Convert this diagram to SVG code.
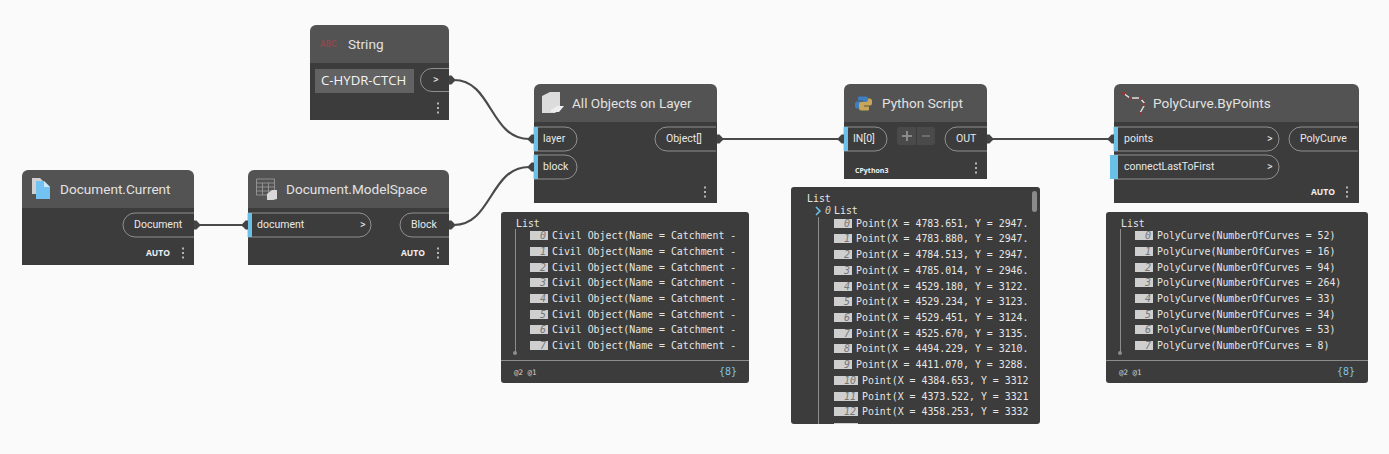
<svg xmlns="http://www.w3.org/2000/svg" width="1389" height="454" viewBox="0 0 1389 454">
<style>
.body{fill:#3c3c3c}
.head{fill:#535353}
.title{font:13.6px Roboto,"Open Sans",sans-serif;fill:#e2e2e2}
.port{font:10.5px Roboto,"Open Sans",sans-serif;fill:#e8e8e8}
.pill{fill:#3c3c3c;stroke:#a5a5a5;stroke-width:.8}
.blue{fill:#6ac0e7}
.auto{font:bold 8.5px "Open Sans","Noto Sans",sans-serif;fill:#f0f0f0}
.dots{fill:#b5b5b5}
.wire{fill:none;stroke:#4a4a4a;stroke-width:2.2}
.cap{fill:#444}
.w{fill:#3c3c3c}
.m{font:9.9px "DejaVu Sans Mono","Liberation Mono",monospace;fill:#e6e6e6}
.ib{fill:#cfcfcf}
.in{font:italic 10px "DejaVu Sans Mono","Liberation Mono",monospace;fill:#777;text-anchor:end}
.tree{stroke:#8d8d8d;stroke-width:1;fill:none}
.foot{font:7.5px "DejaVu Sans Mono",monospace;fill:#cfcfcf}
.cnt{font:10px "DejaVu Sans Mono",monospace;fill:#7fc4e6;text-anchor:end}
</style>
<defs>
<path id="capOut" d="M0-4.500H2.500L5.500-1.200V1.200L2.500 4.500H0Z" class="cap"/>
<path id="capIn" d="M0-4.500H-2.500L-5.500-1.200V1.200L-2.500 4.500H0Z" class="cap"/>
<g id="dots" class="dots"><rect x="-1" y="-5.500" width="2" height="2"/><rect x="-1" y="-1" width="2" height="2"/><rect x="-1" y="3.500" width="2" height="2"/></g>
<clipPath id="pyClip"><rect x="791" y="187" width="249" height="237"/></clipPath>
<path id="snake" d="M859 96.500H866Q868 96.500 868 98.500V103Q868 105 866 105H861Q859 105 859 107V108.500H857Q855 108.500 855 106V103.500Q855 101.500 857 101.500H863V100.500H858V98Q858 96.500 859 96.500Z"/>
</defs>
<rect width="1389" height="454" fill="#fafafa"/>

<g id="connectors">
<path class="wire" d="M454 80C492 80 490 139 529 139"/>
<path class="wire" d="M454 225C492 225 490 167 529 167"/>
<path class="wire" d="M199 225H243"/>
<path class="wire" d="M722 139H839"/>
<path class="wire" d="M992 139H1109"/>
</g>

<g id="node-string">
<path class="body" d="M310 63H449V120H310Z"/>
<path class="head" d="M310 63V31a6 6 0 0 1 6-6H443a6 6 0 0 1 6 6V63Z"/>
<text x="320" y="47" font-family="Roboto,sans-serif" font-size="8.500" font-weight="700" fill="#8a4c4e">ABC</text>
<text class="title" x="348" y="49">String</text>
<rect x="315" y="69" width="99" height="24" fill="#626262"/>
<text x="321" y="85" font-family="Open Sans,sans-serif" font-size="13.200" fill="#f4f4f4">C-HYDR-CTCH</text>
<path class="pill" d="M449 68.500H432a11.500 11.500 0 0 0 0 23H449"/>
<text class="port" x="433" y="83">&gt;</text>
<use href="#capOut" x="449" y="80"/>
<use href="#dots" x="438" y="108"/>
</g>

<g id="node-document-current">
<path class="body" d="M22 208H194V265H22Z"/>
<path class="head" d="M22 208V176a6 6 0 0 1 6-6H188a6 6 0 0 1 6 6V208Z"/>
<path d="M32 178H40L44 182V194H32Z" fill="#d0d0d0"/>
<path d="M36 181H44L50 187V199H36Z" fill="#73c3f2"/>
<path d="M44 181V187H50Z" fill="#cfe8f7"/>
<text class="title" x="60" y="194">Document.Current</text>
<path class="pill" d="M194 213H135a12 12 0 0 0 0 24H194"/>
<text class="port" x="134" y="228">Document</text>
<use href="#capOut" x="194" y="225"/>
<text class="auto" x="146" y="256">AUTO</text>
<use href="#dots" x="183" y="253"/>
</g>

<g id="node-modelspace">
<path class="body" d="M248 208H449V265H248Z"/>
<path class="head" d="M248 208V176a6 6 0 0 1 6-6H443a6 6 0 0 1 6 6V208Z"/>
<path d="M256.500 179H274.500V195H256.500ZM256.500 183H274.500M256.500 187H274.500M256.500 191H274.500M262.500 183V195M268.500 183V195" fill="none" stroke="#a0a0a0" stroke-width=".8"/>
<path d="M267 194L272 190H277V199L273 200H267Z" fill="#d8d8d8"/>
<text class="title" x="286" y="194">Document.ModelSpace</text>
<path class="pill" d="M248 213H359a12 12 0 0 1 0 24H248Z"/>
<rect class="blue" x="248" y="213" width="4" height="24"/>
<text class="port" x="257" y="228">document</text>
<text class="port" x="360" y="228">&gt;</text>
<path class="pill" d="M449 213H412a12 12 0 0 0 0 24H449"/>
<text class="port" x="411" y="228">Block</text>
<use href="#capOut" x="449" y="225"/>
<use href="#capIn" x="248" y="225"/>
<text class="auto" x="401" y="256">AUTO</text>
<use href="#dots" x="438" y="253"/>
</g>

<g id="node-all-objects">
<path class="body" d="M534 122H717V203H534Z"/>
<path class="head" d="M534 122V90a6 6 0 0 1 6-6H711a6 6 0 0 1 6 6V122Z"/>
<path d="M542 96L550 92H560V109L555 113H542Z" fill="#dcdcdc"/>
<path d="M551 110L557 106H564L559 112H551Z" fill="#eee"/>
<text class="title" x="572" y="108">All Objects on Layer</text>
<path class="pill" d="M534 127H565a12 12 0 0 1 0 24H534Z"/>
<rect class="blue" x="534" y="127" width="4" height="24"/>
<text class="port" x="543" y="142">layer</text>
<path class="pill" d="M534 155H565a12 12 0 0 1 0 24H534Z"/>
<rect class="blue" x="534" y="155" width="4" height="24"/>
<text class="port" x="543" y="170">block</text>
<path class="pill" d="M716 127H667a12 12 0 0 0 0 24H716"/>
<text class="port" x="666" y="142">Object[]</text>
<use href="#capOut" x="717" y="139"/>
<use href="#capIn" x="534" y="139"/>
<use href="#capIn" x="534" y="167"/>
<use href="#dots" x="705" y="192"/>
</g>

<g id="node-python">
<path class="body" d="M844 122H987V179H844Z"/>
<path class="head" d="M844 122V90a6 6 0 0 1 6-6H981a6 6 0 0 1 6 6V122Z"/>
<use href="#snake" fill="#3d7fc1"/>
<use href="#snake" fill="#c9a657" transform="rotate(180 863.500 103.500)"/>
<text class="title" x="882" y="108">Python Script</text>
<path class="pill" d="M844 127H875a12 12 0 0 1 0 24H844Z"/>
<rect class="blue" x="844" y="127" width="4" height="24"/>
<text class="port" x="853" y="142">IN[0]</text>
<rect x="897" y="127" width="38" height="18" rx="3" fill="#4a4a4a"/>
<path d="M916.500 127V145" stroke="#3c3c3c"/>
<path d="M902 136H912M907 131V141" stroke="#8a8a8a" stroke-width="2"/>
<path d="M922 136H930" stroke="#6e6e6e" stroke-width="2"/>
<path class="pill" d="M987 127H957a12 12 0 0 0 0 24H987"/>
<text class="port" x="956" y="142">OUT</text>
<use href="#capOut" x="987" y="139"/>
<use href="#capIn" x="844" y="139"/>
<text x="855" y="173" font-family="Open Sans,sans-serif" font-size="7" font-weight="700" fill="#f0f0f0">CPython3</text>
<use href="#dots" x="976" y="168"/>
</g>

<g id="node-polycurve">
<path class="body" d="M1114 122H1359V203H1114Z"/>
<path class="head" d="M1114 122V90a6 6 0 0 1 6-6H1353a6 6 0 0 1 6 6V122Z"/>
<path d="M1123 93L1130 98H1140L1145 104L1140 113" fill="none" stroke="#e0e0e0" stroke-width="1.400"/>
<g fill="#8f3a3a"><rect x="1122" y="92" width="3" height="3"/><rect x="1129" y="97" width="3" height="3"/><rect x="1139" y="97" width="3" height="3"/><rect x="1143" y="103" width="3" height="3"/><rect x="1139" y="112" width="3" height="3"/></g>
<text class="title" x="1153" y="108">PolyCurve.ByPoints</text>
<path class="pill" d="M1114 127H1267a12 12 0 0 1 0 24H1114Z"/>
<rect class="blue" x="1114" y="127" width="4" height="24"/>
<text class="port" x="1124" y="142">points</text>
<text class="port" x="1267" y="142">&gt;</text>
<path class="pill" d="M1114 155H1267a12 12 0 0 1 0 24H1114Z"/>
<rect class="blue" x="1110" y="155" width="8" height="24"/>
<text class="port" x="1124" y="170">connectLastToFirst</text>
<text class="port" x="1267" y="170">&gt;</text>
<path class="pill" d="M1358 127H1301a12 12 0 0 0 0 24H1358"/>
<text class="port" x="1300" y="142">PolyCurve</text>
<use href="#capIn" x="1114" y="139"/>
<text class="auto" x="1311" y="195">AUTO</text>
<use href="#dots" x="1347" y="192"/>
</g>

<g id="watch-objects">
<rect class="w" x="501" y="212" width="248" height="171" rx="3"/>
<text class="m" x="516" y="227">List</text>
<path class="tree" d="M515.500 229V353"/><circle cx="515" cy="353" r="2" fill="#8d8d8d"/>
<g class="ib"><rect x="530" y="231" width="18" height="9"/><rect x="530" y="247" width="18" height="9"/><rect x="530" y="263" width="18" height="9"/><rect x="530" y="278" width="18" height="9"/><rect x="530" y="294" width="18" height="9"/><rect x="530" y="310" width="18" height="9"/><rect x="530" y="325" width="18" height="9"/><rect x="530" y="341" width="18" height="9"/></g>
<text class="in" x="546" y="239">0</text><text class="in" x="546" y="255">1</text><text class="in" x="546" y="271">2</text><text class="in" x="546" y="286">3</text><text class="in" x="546" y="302">4</text><text class="in" x="546" y="318">5</text><text class="in" x="546" y="333">6</text><text class="in" x="546" y="349">7</text>
<text class="m" x="552" y="239">Civil Object(Name = Catchment -</text>
<text class="m" x="552" y="255">Civil Object(Name = Catchment -</text>
<text class="m" x="552" y="271">Civil Object(Name = Catchment -</text>
<text class="m" x="552" y="286">Civil Object(Name = Catchment -</text>
<text class="m" x="552" y="302">Civil Object(Name = Catchment -</text>
<text class="m" x="552" y="318">Civil Object(Name = Catchment -</text>
<text class="m" x="552" y="333">Civil Object(Name = Catchment -</text>
<text class="m" x="552" y="349">Civil Object(Name = Catchment -</text>
<path d="M501 360.500H749" stroke="#8d8d8d"/>
<text class="foot" x="514" y="375">@2 @1</text>
<text class="cnt" x="737" y="375">{8}</text>
</g>

<g id="watch-points">
<rect class="w" x="791" y="187" width="249" height="237" rx="3"/>
<rect x="1032" y="191" width="5" height="21" rx="2.500" fill="#8a8a8a"/>
<text class="m" x="807" y="202">List</text>
<path d="M816 207L820 211L816 215" fill="none" stroke="#6ac0e7" stroke-width="1.600"/>
<text class="in" x="831" y="214" style="fill:#ccc">0</text>
<text class="m" x="834" y="214">List</text>
<path class="tree" d="M818.500 217V424"/>
<g class="ib" clip-path="url(#pyClip)"><rect x="834" y="219" width="18" height="9"/><rect x="834" y="234" width="18" height="9"/><rect x="834" y="250" width="18" height="9"/><rect x="834" y="266" width="18" height="9"/><rect x="834" y="282" width="18" height="9"/><rect x="834" y="297" width="18" height="9"/><rect x="834" y="313" width="18" height="9"/><rect x="834" y="329" width="18" height="9"/><rect x="834" y="344" width="18" height="9"/><rect x="834" y="360" width="18" height="9"/><rect x="834" y="376" width="24" height="9"/><rect x="834" y="392" width="24" height="9"/><rect x="834" y="407" width="24" height="9"/><rect x="834" y="423" width="24" height="9"/></g>
<text class="in" x="850" y="227">0</text><text class="in" x="850" y="242">1</text><text class="in" x="850" y="258">2</text><text class="in" x="850" y="274">3</text><text class="in" x="850" y="290">4</text><text class="in" x="850" y="305">5</text><text class="in" x="850" y="321">6</text><text class="in" x="850" y="337">7</text><text class="in" x="850" y="352">8</text><text class="in" x="850" y="368">9</text><text class="in" x="856" y="384">10</text><text class="in" x="856" y="400">11</text><text class="in" x="856" y="415">12</text>
<text class="m" x="856" y="227">Point(X = 4783.651, Y = 2947.</text>
<text class="m" x="856" y="242">Point(X = 4783.880, Y = 2947.</text>
<text class="m" x="856" y="258">Point(X = 4784.513, Y = 2947.</text>
<text class="m" x="856" y="274">Point(X = 4785.014, Y = 2946.</text>
<text class="m" x="856" y="290">Point(X = 4529.180, Y = 3122.</text>
<text class="m" x="856" y="305">Point(X = 4529.234, Y = 3123.</text>
<text class="m" x="856" y="321">Point(X = 4529.451, Y = 3124.</text>
<text class="m" x="856" y="337">Point(X = 4525.670, Y = 3135.</text>
<text class="m" x="856" y="352">Point(X = 4494.229, Y = 3210.</text>
<text class="m" x="856" y="368">Point(X = 4411.070, Y = 3288.</text>
<text class="m" x="862" y="384">Point(X = 4384.653, Y = 3312</text>
<text class="m" x="862" y="400">Point(X = 4373.522, Y = 3321</text>
<text class="m" x="862" y="415">Point(X = 4358.253, Y = 3332</text>
</g>

<g id="watch-polycurves">
<rect class="w" x="1106" y="212" width="262" height="171" rx="3"/>
<text class="m" x="1121" y="227">List</text>
<path class="tree" d="M1120.500 229V353"/><circle cx="1120" cy="353" r="2" fill="#8d8d8d"/>
<g class="ib"><rect x="1135" y="231" width="18" height="9"/><rect x="1135" y="247" width="18" height="9"/><rect x="1135" y="263" width="18" height="9"/><rect x="1135" y="278" width="18" height="9"/><rect x="1135" y="294" width="18" height="9"/><rect x="1135" y="310" width="18" height="9"/><rect x="1135" y="325" width="18" height="9"/><rect x="1135" y="341" width="18" height="9"/></g>
<text class="in" x="1151" y="239">0</text><text class="in" x="1151" y="255">1</text><text class="in" x="1151" y="271">2</text><text class="in" x="1151" y="286">3</text><text class="in" x="1151" y="302">4</text><text class="in" x="1151" y="318">5</text><text class="in" x="1151" y="333">6</text><text class="in" x="1151" y="349">7</text>
<text class="m" x="1157" y="239">PolyCurve(NumberOfCurves = 52)</text>
<text class="m" x="1157" y="255">PolyCurve(NumberOfCurves = 16)</text>
<text class="m" x="1157" y="271">PolyCurve(NumberOfCurves = 94)</text>
<text class="m" x="1157" y="286">PolyCurve(NumberOfCurves = 264)</text>
<text class="m" x="1157" y="302">PolyCurve(NumberOfCurves = 33)</text>
<text class="m" x="1157" y="318">PolyCurve(NumberOfCurves = 34)</text>
<text class="m" x="1157" y="333">PolyCurve(NumberOfCurves = 53)</text>
<text class="m" x="1157" y="349">PolyCurve(NumberOfCurves = 8)</text>
<path d="M1106 360.500H1368" stroke="#8d8d8d"/>
<text class="foot" x="1119" y="375">@2 @1</text>
<text class="cnt" x="1355" y="375">{8}</text>
</g>
</svg>
